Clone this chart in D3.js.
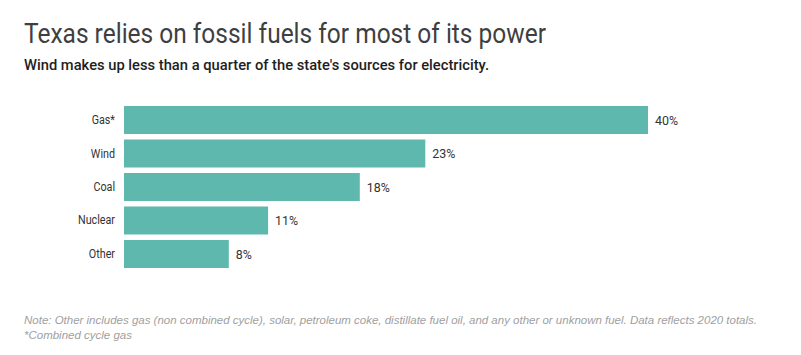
<!DOCTYPE html>
<html><head><meta charset="utf-8">
<script src="https://cdn.jsdelivr.net/npm/d3@7"></script>
<style>
body{margin:0;background:#fff;}
svg{display:block;}
</style></head>
<body>
<svg id="chart" width="801" height="355"></svg>
<script>
const categories = ["Gas*", "Wind", "Coal", "Nuclear", "Other"];
const values = [40, 23, 18, 11, 8];
const valueLabels = ["40%", "23%", "18%", "11%", "8%"];
const title = "Texas relies on fossil fuels for most of its power";
const subtitle = "Wind makes up less than a quarter of the state's sources for electricity.";
const notes = ["Note: Other includes gas (non combined cycle), solar, petroleum coke, distillate fuel oil, and any other or unknown fuel. Data reflects 2020 totals.",
               "*Combined cycle gas"];

const svg = d3.select("#chart");
const FONT = "'Roboto', 'Liberation Sans', sans-serif";
const NOTEFONT = "'Liberation Sans', Arial, sans-serif";
const color = "#5fb8ad";

// horizontally condense text to mimic a condensed face
function condense(sel, factor) {
  sel.each(function() {
    const w = this.getComputedTextLength();
    d3.select(this).attr("textLength", w * factor).attr("lengthAdjust", "spacingAndGlyphs");
  });
}

svg.append("text").attr("x", 24).attr("y", 43)
  .attr("font-family", FONT).attr("font-size", 28).attr("font-weight", 400).attr("fill", "#3f3f3f")
  .text(title)
  .attr("textLength", 522).attr("lengthAdjust", "spacingAndGlyphs");
svg.append("text").attr("x", 24).attr("y", 70)
  .attr("font-family", FONT).attr("font-size", 14.5).attr("font-weight", 500).attr("fill", "#1e1e1e")
  .text(subtitle)
  .attr("textLength", 465).attr("lengthAdjust", "spacingAndGlyphs");

const x = d3.scaleLinear().domain([0, 40]).range([124, 648]);
const y = d3.scaleBand().domain(categories).range([106, 268]).paddingInner(0.164).paddingOuter(0);

const data = categories.map((c, i) => ({c, v: values[i], l: valueLabels[i]}));

svg.append("g").selectAll("rect").data(data).join("rect")
  .attr("x", x(0)).attr("y", d => y(d.c))
  .attr("width", d => x(d.v) - x(0)).attr("height", y.bandwidth())
  .attr("fill", color);

const axis = d3.axisLeft(y).tickSize(0).tickPadding(9);
const ag = svg.append("g").attr("transform", `translate(${x(0)},0)`).call(axis);
ag.select(".domain").remove();
ag.selectAll("text").attr("font-family", FONT).attr("font-size", 12.5).attr("fill", "#333")
  .call(condense, 0.86);

svg.append("g").selectAll("text").data(data).join("text")
  .attr("x", d => x(d.v) + 7).attr("y", d => y(d.c) + y.bandwidth() / 2)
  .attr("dy", "0.35em")
  .attr("font-family", FONT).attr("font-size", 13.5).attr("fill", "#333")
  .text(d => d.l)
  .call(condense, 0.92);

const ng = svg.append("g").selectAll("text").data(notes).join("text")
  .attr("x", 24).attr("y", (d, i) => 324 + i * 15)
  .attr("font-family", NOTEFONT).attr("font-size", 11.5).attr("font-style", "italic")
  .attr("fill", "#a0a0a0")
  .text(d => d);
const nw0 = ng.nodes()[0].getComputedTextLength();
const nfac = 733 / nw0;
ng.call(condense, nfac);
</script>
</body></html>
